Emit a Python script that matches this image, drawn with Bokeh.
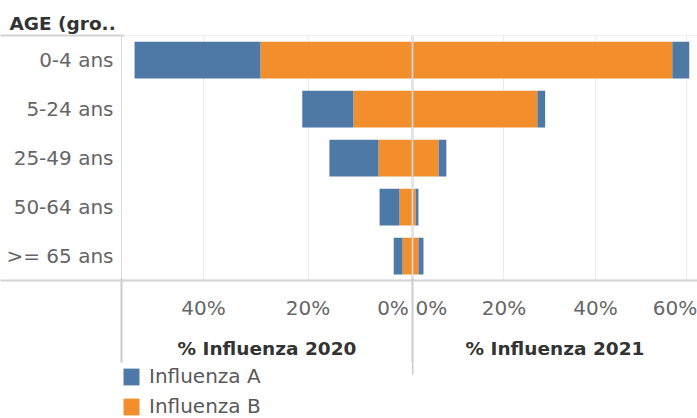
from bokeh.plotting import figure
from bokeh.models import (Range1d, FactorRange, FixedTicker, PrintfTickFormatter, LinearAxis,
                          ColumnDataSource, Legend, LegendItem, Span)
from bokeh.layouts import row, column
from bokeh.embed import file_html
from bokeh.resources import INLINE

# ---- data (percent) ----
ages = ["0-4 ans", "5-24 ans", "25-49 ans", "50-64 ans", ">= 65 ans"]
flu_a_2020 = [24.1, 9.8, 9.4, 3.8, 1.7]
flu_b_2020 = [29.1, 11.3, 6.5, 2.5, 1.9]
flu_a_2021 = [3.7, 1.7, 1.7, 0.6, 1.1]
flu_b_2021 = [56.8, 27.3, 5.7, 0.7, 1.3]
ticks_2020 = [0, 20, 40]
ticks_2021 = [0, 20, 40, 60]
series = ["Influenza A", "Influenza B"]
max_2020 = 55.7
max_2021 = 62.3

# Tableau nudges the edge tick labels inward so they do not collide; these
# are the (axis-unit) anchor points used for the nudged labels.
label_anchor_2020 = {0: 3.73}
label_anchor_2021 = {0: 4.15, 60: 57.4}

BLUE = "#4e79a7"
ORANGE = "#f28e2b"
FONT = "DejaVu Sans"
S1 = 80          # height of the tick-label + title axis block
LINE = "#d2d2d2"

y_factors = list(reversed(ages))
src20 = ColumnDataSource(dict(age=ages, a=flu_a_2020, b=flu_b_2020))
src21 = ColumnDataSource(dict(age=ages, a=flu_a_2021, b=flu_b_2021))


def style_xaxis(p, ticks, anchors, title):
    label_ticks = [anchors.get(t, t) for t in ticks]
    ax = p.xaxis[0]
    ax.ticker = FixedTicker(ticks=label_ticks)
    ax.formatter = PrintfTickFormatter(format="%d%%")
    ax.major_label_overrides = {anchors[t]: "%d%%" % t for t in anchors}
    ax.axis_label = title
    ax.axis_label_text_font = FONT
    ax.axis_label_text_font_size = "18.5px"
    ax.axis_label_text_font_style = "bold"
    ax.axis_label_text_color = "#333333"
    ax.axis_label_standoff = 15
    ax.major_label_text_font = FONT
    ax.major_label_text_font_size = "20px"
    ax.major_label_text_color = "#666666"
    ax.major_label_standoff = 15
    ax.major_tick_in = 0
    ax.major_tick_out = 0
    ax.major_tick_line_color = None
    ax.minor_tick_line_color = None
    ax.axis_line_color = LINE
    ax.axis_line_width = 2
    p.xgrid.ticker = FixedTicker(ticks=ticks)
    p.xgrid.grid_line_color = "#ececec"
    p.ygrid.grid_line_color = None
    p.outline_line_color = None
    # top pane border
    p.add_layout(Span(location=len(ages), dimension="width",
                      line_color="#e2e2e2", line_width=1))
    # centre divider inside the pane
    p.add_layout(Span(location=0, dimension="height",
                      line_color="#cccccc", line_width=2))


def edge_axis(p, ticks, tick_out):
    # tick-only axis: its ticks draw the pane dividers below the panes
    ax = LinearAxis(ticker=FixedTicker(ticks=ticks),
                    major_label_overrides={t: "" for t in ticks},
                    major_label_text_font_size="1px", major_label_standoff=0,
                    major_tick_in=S1 + 3, major_tick_out=tick_out,
                    major_tick_line_color="#cccccc", major_tick_line_width=2,
                    minor_tick_line_color=None, axis_line_color=None)
    p.add_layout(ax, "below")


# ---- left panel: 2020 ----
left = figure(width=412, height=364, output_backend="svg", toolbar_location=None,
              y_range=FactorRange(factors=y_factors, range_padding=0),
              x_range=Range1d(max_2020, 0),
              min_border_left=121, min_border_right=0,
              min_border_top=35, min_border_bottom=84)
rl = left.hbar_stack(["b", "a"], y="age", height=0.75, source=src20,
                     fill_color=[ORANGE, BLUE], line_color=None)
style_xaxis(left, ticks_2020, label_anchor_2020, "% Influenza 2020")
edge_axis(left, [max_2020, 0], 1)

ya = left.yaxis[0]
ya.major_label_text_font = FONT
ya.major_label_text_font_size = "20px"
ya.major_label_text_color = "#666666"
ya.major_label_standoff = 8
ya.major_tick_line_color = None
ya.major_tick_out = 0
ya.major_tick_in = 0
ya.axis_line_color = "#d9d9d9"
ya.axis_line_width = 1

# header underline / bottom line across the row-label column
left.add_layout(LinearAxis(ticker=FixedTicker(ticks=[0, len(ages)]),
                           major_label_overrides={0: "", len(ages): ""},
                           major_label_text_font_size="1px", major_label_standoff=0,
                           major_tick_in=121, major_tick_out=3,
                           major_tick_line_color=LINE, major_tick_line_width=2,
                           minor_tick_line_color=None, axis_line_color=None), "left")

left.title.text = "AGE (gro.."
left.title.align = "left"
left.title.offset = -112
left.title.text_font = FONT
left.title.text_font_size = "18.5px"
left.title.text_font_style = "bold"
left.title.text_color = "#333333"
left.title.standoff = 3

# ---- legend strip under the left panel ----
leg = figure(width=412, height=54, output_backend="svg", toolbar_location=None,
             x_range=Range1d(0, 1), y_range=Range1d(0, 1), min_border=0,
             x_axis_location=None, y_axis_location=None)
leg.grid.grid_line_color = None
leg.outline_line_color = None
# legend proxies (zero-width bars, nothing visible is drawn)
sw_a = leg.hbar(y=[0.5], left=[0], right=[0], height=0.5, fill_color=BLUE, line_color=None)
sw_b = leg.hbar(y=[0.5], left=[0], right=[0], height=0.5, fill_color=ORANGE, line_color=None)
legend = Legend(items=[LegendItem(label=series[0], renderers=[sw_a]),
                       LegendItem(label=series[1], renderers=[sw_b])],
                location=(0, 0), orientation="vertical",
                glyph_width=20, glyph_height=21, label_height=24, spacing=6,
                padding=0, margin=0, label_standoff=8,
                border_line_color=None, background_fill_alpha=0,
                label_text_font=FONT, label_text_font_size="20px",
                label_text_color="#595959")
leg.add_layout(legend, "center")

# ---- right panel: 2021 ----
right = figure(width=285, height=418, output_backend="svg", toolbar_location=None,
               y_range=FactorRange(factors=y_factors, range_padding=0),
               x_range=Range1d(0, max_2021), y_axis_location=None,
               min_border_left=0, min_border_right=0,
               min_border_top=35, min_border_bottom=138)
right.hbar_stack(["b", "a"], y="age", height=0.75, source=src21,
                 fill_color=[ORANGE, BLUE], line_color=None)
style_xaxis(right, ticks_2021, label_anchor_2021, "% Influenza 2021")
edge_axis(right, [0], 93 - S1)

layout = row(column(left, leg), right)
open("out.html", "w").write(file_html(layout, INLINE))
